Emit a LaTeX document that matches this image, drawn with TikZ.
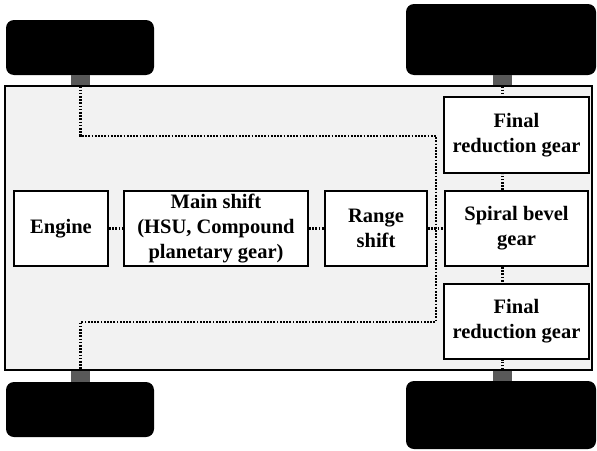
\documentclass[tikz,border=0pt]{standalone}
\usepackage{fontspec}
\setmainfont{Liberation Serif}
\usetikzlibrary{positioning}

\tikzset{
	blockbox/.style={draw, line width=2pt, fill=white, align=center, inner sep=0pt,
		font=\bfseries\fontsize{20.5}{25}\selectfont},
	wheel/.style={fill=black, rounded corners=8pt, inner sep=0pt},
	stub/.style={fill={rgb,255:red,89;green,89;blue,89}, inner sep=0pt, minimum width=19pt, minimum height=11pt},
	dotline/.style={line width=2.6pt, dash pattern=on 1.7pt off 1.5pt}}
\tikzset{every picture/.style={line width=0.75pt}}

\begin{document}
\begin{tikzpicture}[x=1pt,y=1pt,yscale=-1,xscale=1]
	\useasboundingbox (0,0) rectangle (597,450);

	% Wheels
	\node [wheel, minimum width=148pt, minimum height=55pt] (wheelTL) at (80,47.5) {};
	\node [wheel, minimum width=190pt, minimum height=71pt] (wheelTR) at (501,39.5) {};
	\node [wheel, minimum width=148pt, minimum height=55pt] (wheelBL) at (80,409.5) {};
	\node [wheel, minimum width=190pt, minimum height=68pt] (wheelBR) at (501,415) {};
	% Axle stubs
	\node [stub] (stubTL) at (80.5,80.5) {};
	\node [stub] (stubTR) at (502.5,80.5) {};
	\node [stub] (stubBL) at (80.5,376) {};
	\node [stub] (stubBR) at (502.5,375.5) {};

	% Chassis
	\draw [line width=2pt, fill={rgb,255:red,242;green,242;blue,242}] (5,86) rectangle (592,370);

	% Blocks
	\node [blockbox, minimum width=94pt, minimum height=75pt] (engine) at (61,228.5) {Engine};
	\node [blockbox, minimum width=184pt, minimum height=75pt] (mainshift) at (216,228.5) {Main shift\\(HSU, Compound\\planetary gear)};
	\node [blockbox, minimum width=102pt, minimum height=75pt] (range) at (376,228.5) {Range\\shift};
	\node [blockbox, minimum width=143pt, minimum height=75pt] (spiral) at (516.5,228.5) {Spiral bevel\\gear};
	\node [blockbox, minimum width=145pt, minimum height=76pt] (finalT) at (516.5,135) {Final\\reduction gear};
	\node [blockbox, minimum width=145pt, minimum height=75pt] (finalB) at (516.5,321.5) {Final\\reduction gear};

	% Drive line
	\coordinate (jt) at (436,136);
	\coordinate (jb) at (436,322);
	\draw [dotline] (engine) -- (mainshift);
	\draw [dotline] (mainshift) -- (range);
	\draw [dotline] (range) -- (spiral);
	\draw [dotline] (spiral.north -| stubTR) -- (finalT.south -| stubTR);
	\draw [dotline] (spiral.south -| stubTR) -- (finalB.north -| stubTR);
	\draw [dotline] (stubTR.south) -- (finalT.north -| stubTR);
	\draw [dotline] (stubBR.north) -- (finalB.south -| stubBR);
	% Front axle route
	\draw [dotline] (stubTL.south) |- (jt) -- (jb) -| (stubBL.north);

\end{tikzpicture}
\end{document}
